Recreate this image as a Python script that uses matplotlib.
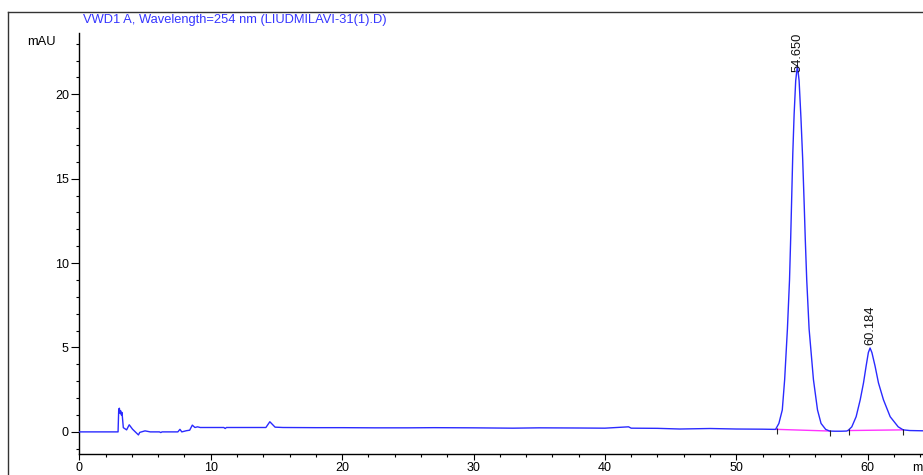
import matplotlib
matplotlib.use("Agg")
import matplotlib.pyplot as plt
from matplotlib.ticker import MultipleLocator
from matplotlib.lines import Line2D

plt.rcParams['font.family'] = ['Liberation Sans', 'DejaVu Sans']

# ---- data ----
time_min = [
    0.0, 2.95, 3.0, 3.05, 3.1, 3.15, 3.2, 3.25, 3.35, 3.6, 3.8, 4.05, 4.5, 4.6,
    5.0, 5.4, 6.1, 6.2, 6.3, 7.5, 7.66, 7.8, 8.15, 8.4, 8.6, 8.8, 9.0, 9.2,
    11.0, 11.1, 11.2, 14.2, 14.5, 14.9, 15.5, 18.0, 20.0, 22.5, 25.0, 27.0,
    30.0, 33.0, 35.0, 38.0, 40.0, 41.8, 42.0, 44.0, 45.7, 48.0, 50.0, 52.0,
    52.8, 52.99, 53.24, 53.50, 53.68, 53.89, 54.05, 54.14, 54.22, 54.30, 54.40,
    54.52, 54.65, 54.78, 54.92, 55.05, 55.17, 55.25, 55.36, 55.54, 55.87, 56.18,
    56.45, 56.8, 57.1, 57.5, 58.0, 58.4, 58.53, 58.79, 59.12, 59.43, 59.68,
    59.88, 60.05, 60.18, 60.32, 60.56, 60.82, 61.20, 61.71, 62.32, 62.70, 63.2,
    64.5,
]
signal_mau = [
    0.0, 0.0, 1.35, 1.4, 1.1, 1.25, 1.0, 1.15, 0.25, 0.12, 0.42, 0.16, -0.18, -0.03,
    0.06, 0.0, 0.0, -0.04, 0.0, 0.0, 0.15, 0.0, 0.07, 0.1, 0.4, 0.26, 0.3, 0.26,
    0.26, 0.2, 0.26, 0.26, 0.6, 0.28, 0.26, 0.25, 0.25, 0.24, 0.24, 0.25,
    0.24, 0.22, 0.24, 0.23, 0.22, 0.3, 0.22, 0.21, 0.17, 0.2, 0.17, 0.16,
    0.15, 0.15, 0.5, 1.3, 3.1, 6.1, 9.0, 11.5, 14.0, 16.5, 18.8,
    20.8, 21.7, 20.8, 18.6, 16.2, 13.4, 11.4, 9.0, 6.1, 3.1, 1.3,
    0.5, 0.15, 0.05, 0.04, 0.04, 0.05, 0.1, 0.3, 0.9, 1.9, 2.9,
    3.9, 4.7, 4.97, 4.7, 3.9, 2.9, 1.9, 0.9, 0.3, 0.12, 0.08,
    0.06,
]

peak_rt = [54.650, 60.184]
peak_height = [21.7, 4.97]
peak_labels = ["54.650", "60.184"]

# integration baselines (start, end) per peak
base_start_t = [53.07, 58.55]
base_start_y = [0.15, 0.08]
base_end_t = [57.13, 62.70]
base_end_y = [0.05, 0.12]

title = "VWD1 A, Wavelength=254 nm (LIUDMILAVI-31(1).D)"

# ---- figure ----
W, H = 923, 475
fig = plt.figure(figsize=(W / 100, H / 100), dpi=100)
ax_left, ax_bottom = 79.3 / W, (H - 454) / H
ax_top = (H - 33) / H
ax = fig.add_axes([ax_left, ax_bottom, 1 - ax_left, ax_top - ax_bottom])

ymin, ymax = -1.31, 23.63
xmin, xmax = 0.0, (W - 79.3) / 13.14
ax.set_xlim(xmin, xmax)
ax.set_ylim(ymin, ymax)

blue = "#2a2aff"
ax.plot(time_min, signal_mau, color=blue, lw=1.0, zorder=3)

for ts, ys, te, ye in zip(base_start_t, base_start_y, base_end_t, base_end_y):
    ax.plot([ts, te], [ys, ye], color="#ff33ff", lw=1.0, zorder=2)
    ax.plot([ts, te], [ys - 0.1, ye - 0.1], linestyle="none", marker="|",
            markersize=4, color="#222222", mew=0.8, zorder=4)

text_len = 2.31
for rt, h, lab in zip(peak_rt, peak_height, peak_labels):
    y = min(h + 0.2, ymax - text_len)
    ax.text(rt, y, lab, rotation=90, ha="center", va="bottom",
            fontsize=9.3, color="#111111", zorder=5)

for s in ("top", "right"):
    ax.spines[s].set_visible(False)
for s in ("left", "bottom"):
    ax.spines[s].set_color("#000000")
    ax.spines[s].set_linewidth(1.0)

ax.xaxis.set_major_locator(MultipleLocator(10))
ax.xaxis.set_minor_locator(MultipleLocator(2))
ax.yaxis.set_major_locator(MultipleLocator(5))
ax.yaxis.set_minor_locator(MultipleLocator(1))
ax.tick_params(axis="y", which="major", length=5.5, width=0.8, labelsize=9,
               colors="#000000", pad=2)
ax.tick_params(axis="x", which="major", length=4.5, width=0.8, labelsize=9,
               colors="#000000", pad=1.5)
ax.tick_params(axis="both", which="minor", length=2.5, width=0.8)

fig.text(911.7 / W, ax_bottom - 8 / H, "min", fontsize=9, ha="left", va="top")
fig.text(41.5 / W, (H - 42) / H, "mAU", fontsize=9.3, ha="center", va="center")
fig.text(83 / W, (H - 20) / H, title, fontsize=9.3, color="#3535ff",
         ha="left", va="center")

# outer frame lines
fig.add_artist(Line2D([8.3 / W, 8.3 / W], [0, (H - 11.7) / H], color="#333333",
                      lw=1.0, transform=fig.transFigure))
fig.add_artist(Line2D([8.3 / W, 1], [(H - 11.7) / H, (H - 11.7) / H],
                      color="#333333", lw=1.0, transform=fig.transFigure))

fig.savefig("out.png", dpi=100)
